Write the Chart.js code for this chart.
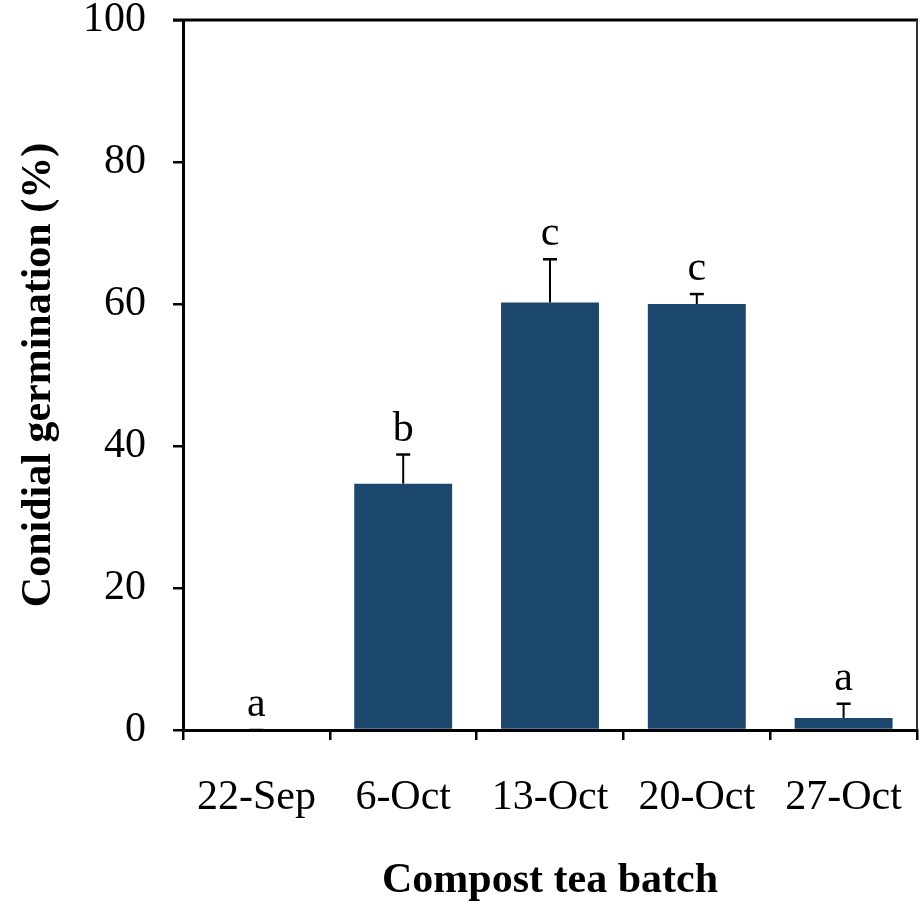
<!DOCTYPE html>
<html>
<head>
<meta charset="utf-8">
<script src="https://cdn.jsdelivr.net/npm/chart.js@4/dist/chart.umd.min.js"></script>
<style>
  html, body { margin: 0; padding: 0; background: #ffffff; }
  #wrap { width: 919px; height: 910px; }
</style>
</head>
<body>
<div id="wrap"><canvas id="chart" width="919" height="910"></canvas></div>
<script>
// Compost tea batches and mean conidial germination (%)
const batches = ['22-Sep', '6-Oct', '13-Oct', '20-Oct', '27-Oct'];
const germination = [0, 34.7, 60.2, 60.0, 1.7];
// upper error (standard error) for each batch
const errorUpper = [0, 4.1, 6.1, 1.4, 2.0];
// mean separation letters
const groupLetters = ['a', 'b', 'c', 'c', 'a'];
const yTicks = [0, 20, 40, 60, 80, 100];

const SERIF = "'Liberation Serif', 'DejaVu Serif', serif";
const BAR_COLOR = '#1b476d';

// Draws the upper error whiskers and the letters above them
const errorBarsPlugin = {
  id: 'errorBars',
  afterDatasetsDraw(chart) {
    const ctx = chart.ctx;
    const meta = chart.getDatasetMeta(0);
    const y = chart.scales.y;
    ctx.save();
    meta.data.forEach((bar, i) => {
      const x = bar.x;
      const yBase = y.getPixelForValue(germination[i]);
      const yTop = y.getPixelForValue(germination[i] + errorUpper[i]);
      ctx.strokeStyle = '#000';
      ctx.lineWidth = 2;
      ctx.beginPath();
      ctx.moveTo(x, yBase);
      ctx.lineTo(x, yTop);
      ctx.stroke();
      ctx.lineWidth = 2.5;
      ctx.beginPath();
      ctx.moveTo(x - 7, yTop);
      ctx.lineTo(x + 7, yTop);
      ctx.stroke();
      ctx.fillStyle = '#000';
      ctx.font = '42px ' + SERIF;
      ctx.textAlign = 'center';
      ctx.textBaseline = 'alphabetic';
      ctx.fillText(groupLetters[i], x, yTop - 14);
    });
    ctx.restore();
  }
};

// Top and right edges of the plot frame
const framePlugin = {
  id: 'frame',
  afterDraw(chart) {
    const { ctx, chartArea } = chart;
    ctx.save();
    ctx.strokeStyle = '#000';
    ctx.lineWidth = 3;
    ctx.beginPath();
    ctx.moveTo(chartArea.left - 10, chartArea.top);
    ctx.lineTo(chartArea.right + 1, chartArea.top);
    ctx.stroke();
    ctx.strokeStyle = '#333';
    ctx.lineWidth = 2;
    ctx.beginPath();
    ctx.moveTo(chartArea.right, chartArea.top);
    ctx.lineTo(chartArea.right, chartArea.bottom);
    ctx.stroke();
    ctx.restore();
  }
};

// Keeps the axis boxes at fixed sizes without extra label padding
function fixScale(size, key) {
  return function (scale) {
    scale[key] = size;
    scale.paddingTop = 0;
    scale.paddingBottom = 0;
    scale.paddingLeft = 0;
    scale.paddingRight = 0;
  };
}

new Chart(document.getElementById('chart'), {
  type: 'bar',
  data: {
    labels: batches,
    datasets: [{
      data: germination,
      backgroundColor: BAR_COLOR,
      borderWidth: 0,
      categoryPercentage: 1.0,
      barPercentage: 0.667
    }]
  },
  options: {
    responsive: false,
    animation: false,
    devicePixelRatio: 1,
    layout: { padding: { top: 20, right: 2, left: 0, bottom: 0 } },
    plugins: {
      legend: { display: false },
      tooltip: { enabled: false }
    },
    scales: {
      x: {
        offset: true,
        grid: {
          offset: true,
          drawOnChartArea: false,
          drawTicks: true,
          tickLength: 10,
          color: '#000',
          lineWidth: 2.5
        },
        border: { display: true, color: '#000', width: 3 },
        ticks: {
          color: '#000',
          padding: 33,
          maxRotation: 0,
          autoSkip: false,
          font: { family: SERIF, size: 42 }
        },
        title: {
          display: true,
          text: 'Compost tea batch',
          color: '#000',
          font: { family: SERIF, size: 42, weight: 'bold' },
          padding: { top: 0, bottom: 4 }
        },
        afterFit: fixScale(180, 'height')
      },
      y: {
        min: 0,
        max: 100,
        afterBuildTicks(scale) { scale.ticks = yTicks.map(v => ({ value: v })); },
        grid: {
          drawOnChartArea: false,
          drawTicks: true,
          tickLength: 10,
          color: '#000',
          lineWidth: 2.5
        },
        border: { display: true, color: '#000', width: 3 },
        ticks: {
          color: '#000',
          padding: 27,
          font: { family: SERIF, size: 42, lineHeight: 0.8 }
        },
        title: {
          display: true,
          text: 'Conidial germination (%)',
          color: '#000',
          font: { family: SERIF, size: 42, weight: 'bold' },
          padding: { top: 14, bottom: 0 }
        },
        afterFit: fixScale(183, 'width')
      }
    }
  },
  plugins: [errorBarsPlugin, framePlugin]
});
</script>
</body>
</html>
